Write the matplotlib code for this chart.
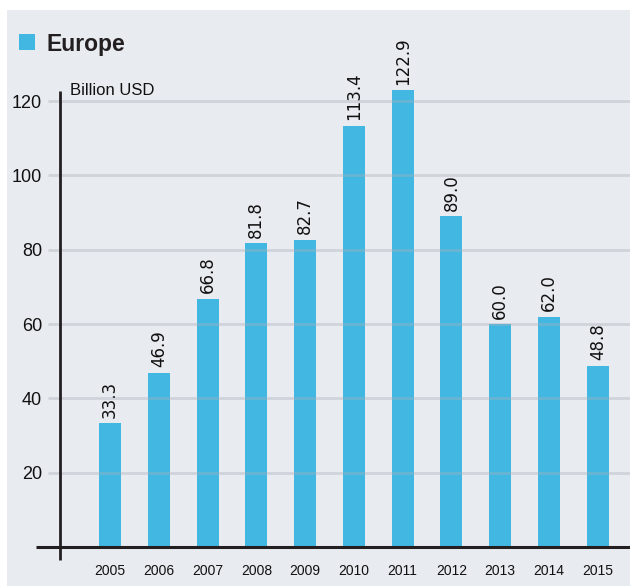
import matplotlib
matplotlib.use("Agg")
import matplotlib.pyplot as plt
from matplotlib.patches import Rectangle

plt.rcParams['font.family'] = ['Liberation Sans', 'DejaVu Sans']

years = ['2005', '2006', '2007', '2008', '2009', '2010',
         '2011', '2012', '2013', '2014', '2015']
values = [33.3, 46.9, 66.8, 81.8, 82.7, 113.4, 122.9, 89.0, 60.0, 62.0, 48.8]
yticks = [20, 40, 60, 80, 100, 120]

bar_color = '#41b7e2'
bg_color = '#e8ebf0'
W, H = 630, 586

fig = plt.figure(figsize=(W / 100, H / 100), dpi=100, facecolor='white')

# panel background
fig.patches.append(Rectangle((7 / W, 0), 1 - 7 / W, 576 / H,
                             transform=fig.transFigure, facecolor=bg_color,
                             edgecolor='none', zorder=-10))

ax = fig.add_axes([60 / W, 39 / H, 570 / W, 483 / H])
ax.set_facecolor('none')
xmin, xmax = -1.025, 10.66
ax.set_xlim(xmin, xmax)
ax.set_ylim(0, 130)

x = list(range(len(years)))
ax.bar(x, values, width=0.45, color=bar_color, zorder=2)

for xi, v in zip(x, values):
    ax.annotate(f'{v:.1f}', (xi, v), xytext=(0, 4), textcoords='offset points',
                rotation=90, ha='center', va='bottom', fontsize=12,
                family='DejaVu Sans', color='#111111')

# grid lines on top of the bars, reaching a bit left of the axis
ax.hlines(yticks, xmin - 0.25, xmax, colors='#a8b0b8', alpha=0.38,
          linewidth=2, zorder=3, clip_on=False)

# axis lines
ax.plot([xmin - 0.5, xmax], [0, 0], color='#231f20', linewidth=2.2,
        zorder=4, clip_on=False, solid_capstyle='butt')
ax.plot([xmin, xmin], [-3.5, 122.7], color='#231f20', linewidth=2,
        zorder=4, clip_on=False, solid_capstyle='butt')

for s in ax.spines.values():
    s.set_visible(False)

ax.set_yticks(yticks)
ax.set_yticklabels([str(t) for t in yticks], fontsize=13, color='#111111')
ax.tick_params(axis='y', length=0, pad=13)
ax.set_xticks(x)
ax.set_xticklabels(years, fontsize=10, color='#111111')
ax.tick_params(axis='x', length=0, pad=12)

ax.text(xmin + 0.2, 121.7, 'Billion USD', fontsize=12, color='#111111',
        ha='left', va='baseline')

# legend-style title
fig.patches.append(Rectangle((19 / W, 1 - 50 / H), 16 / W, 16 / H,
                             transform=fig.transFigure, facecolor=bar_color,
                             edgecolor='none'))
fig.text(46 / W, 1 - 51 / H, 'Europe', fontsize=16.5, fontweight='bold',
         color='#231f20', ha='left', va='baseline')

fig.savefig('out.png', dpi=100, facecolor='white')
